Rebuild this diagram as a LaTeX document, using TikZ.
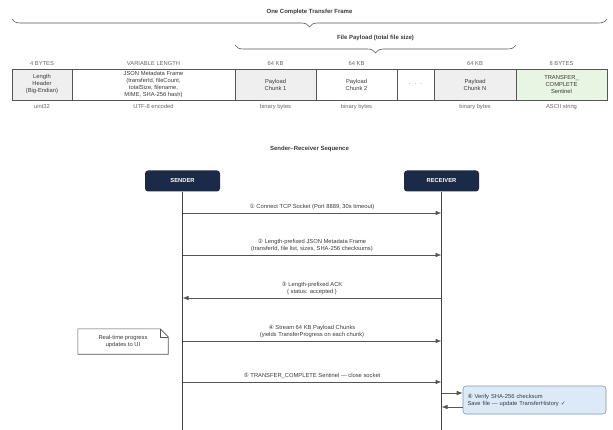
\documentclass[tikz,border=0pt]{standalone}
\usepackage{fontspec}
\setmainfont{Liberation Sans}
\newfontfamily\symfont{DejaVu Sans}
\usetikzlibrary{arrows.meta,positioning,decorations.pathreplacing,calc}
\definecolor{navybox}{HTML}{1B2A47}
\definecolor{cellgray}{HTML}{EFEFEF}
\definecolor{cellgreen}{HTML}{E8F5E3}
\definecolor{verifyblue}{HTML}{DCEAF8}
\definecolor{verifyedge}{HTML}{7C98B8}
\definecolor{edgegray}{HTML}{555555}
\definecolor{labelgray}{HTML}{666666}
\definecolor{textgray}{HTML}{3A3A3A}

\begin{document}
\begin{tikzpicture}[x=1pt, y=-1pt,
font=\fontsize{5.8}{7}\selectfont,
cell/.style={rectangle, draw=edgegray, line width=0.6pt, outer sep=0pt, minimum height=31pt, align=center, text=textgray, inner sep=0.5pt},
sizelabel/.style={text=labelgray, inner sep=1pt},
title/.style={font=\fontsize{6}{7}\selectfont\bfseries, text=textgray},
bracepath/.style={decorate, decoration={brace, mirror, amplitude=8pt}, draw=edgegray, line width=0.6pt},
actor/.style={rectangle, rounded corners=3pt, fill=navybox, text=white, font=\fontsize{5.8}{7}\selectfont\bfseries, minimum width=75pt, minimum height=21pt},
lifeline/.style={draw=edgegray!80!black, line width=0.8pt},
msg/.style={->, >={Latex[length=6pt,width=4.5pt]}, draw=edgegray, line width=0.6pt},
msglabel/.style={align=center, text=textgray, inner sep=1pt},
notebox/.style={rectangle, align=center, text=textgray, minimum width=90pt, minimum height=25pt, inner sep=1pt},
verifybox/.style={rectangle, rounded corners=3pt, draw=verifyedge, fill=verifyblue, line width=0.6pt, align=left, text=textgray, text width=134pt, inner sep=4.5pt, minimum height=28pt},
]

\useasboundingbox (0,0) rectangle (613,430);

% frame layout
\node[cell, fill=cellgray, minimum width=60pt, anchor=west] (lenhdr) at (12,84.5) {Length\\Header\\(Big-Endian)};
\node[cell, fill=white, minimum width=163pt, right=0pt of lenhdr]    (jsonmeta)  {JSON Metadata Frame\\(transferId, fileCount,\\totalSize, filename,\\MIME, SHA-256 hash)};
\node[cell, fill=cellgray, minimum width=81pt, right=0pt of jsonmeta] (chunkone)  {Payload\\Chunk 1};
\node[cell, fill=white, minimum width=81pt, right=0pt of chunkone]    (chunktwo)  {Payload\\Chunk 2};
\node[cell, fill=white, minimum width=37pt, right=0pt of chunktwo]    (chunkdots) {$\cdot$\ \ $\cdot$\ \ $\cdot$};
\node[cell, fill=cellgray, minimum width=82pt, right=0pt of chunkdots] (chunkn)   {Payload\\Chunk N};
\node[cell, fill=cellgreen, minimum width=91pt, right=0pt of chunkn]  (sentinel)  {TRANSFER\_\\COMPLETE\\Sentinel};

\node[sizelabel, above=2pt of lenhdr]   {4 BYTES};
\node[sizelabel, above=2pt of jsonmeta] {VARIABLE LENGTH};
\node[sizelabel, above=2pt of chunkone] {64 KB};
\node[sizelabel, above=2pt of chunktwo] {64 KB};
\node[sizelabel, above=2pt of chunkn]   {64 KB};
\node[sizelabel, above=2pt of sentinel] {8 BYTES};

\node[sizelabel, below=3pt of lenhdr]   {uint32};
\node[sizelabel, below=3pt of jsonmeta] {UTF-8 encoded};
\node[sizelabel, below=3pt of chunkone] {binary bytes};
\node[sizelabel, below=3pt of chunktwo] {binary bytes};
\node[sizelabel, below=3pt of chunkn]   {binary bytes};
\node[sizelabel, below=3pt of sentinel] {ASCII string};

% braces
\node[title] (frametitle)   at (309.5,12) {One Complete Transfer Frame};
\draw[bracepath] (lenhdr.west |- 0,19) -- (sentinel.east |- 0,19);
\node[title] (payloadtitle) at (375.5,38) {File Payload (total file size)};
\draw[bracepath] (chunkone.west |- 0,45) -- (chunkn.east |- 0,45);

% sequence
\node[title] (seqtitle) at (309.5,149) {Sender--Receiver Sequence};

\node[actor] (sender)   at (182.5,181) {SENDER};
\node[actor] (receiver) at (441.5,181) {RECEIVER};

\coordinate (senderend)   at (sender.south |- 0,430);
\coordinate (receiverend) at (receiver.south |- 0,430);
\draw[lifeline] (sender.south) -- (senderend);
\draw[lifeline] (receiver.south) -- (receiverend);

\foreach \i/\y in {1/213, 2/255, 3/298, 4/341, 5/382, 6/393, 7/407} {
  \coordinate (s\i) at (sender.south |- 0,\y);
  \coordinate (r\i) at (receiver.south |- 0,\y);
}

\draw[msg] (s1) -- node[msglabel, above=2pt] {{\symfont ①} Connect TCP Socket (Port 8889, 30s timeout)} (r1);
\draw[msg] (s2) -- node[msglabel, above=2pt] {{\symfont ②} Length-prefixed JSON Metadata Frame\\(transferId, file list, sizes, SHA-256 checksums)} (r2);
\draw[msg] (r3) -- node[msglabel, above=2pt] {{\symfont ③} Length-prefixed ACK\\\{ status: accepted \}} (s3);
\draw[msg] (s4) -- node[msglabel, above=2pt] {{\symfont ④} Stream 64 KB Payload Chunks\\(yields TransferProgress on each chunk)} (r4);
\draw[msg] (s5) -- node[msglabel, above=2pt] {{\symfont ⑤} TRANSFER\_COMPLETE Sentinel --- close socket} (r5);

\node[verifybox] (verify) at (534.5,400) {{\symfont ⑥} Verify SHA-256 checksum\\Save file --- update TransferHistory {\symfont ✓}};
\draw[msg] (r6) -- (verify.west |- r6);
\draw[msg] (verify.west |- r7) -- (r7);

% note
\node[notebox] (progressnote) at (123,341.5) {Real-time progress\\updates to UI};
\draw[draw=edgegray, line width=0.6pt, fill=white] (progressnote.north west) -- ([xshift=-8pt]progressnote.north east) -- ([yshift=-8pt]progressnote.north east) -- (progressnote.south east) -- (progressnote.south west) -- cycle;
\draw[draw=edgegray, line width=0.6pt] ([xshift=-8pt]progressnote.north east) -- ([xshift=-8pt,yshift=-8pt]progressnote.north east) -- ([yshift=-8pt]progressnote.north east);
\node[notebox] at (progressnote) {Real-time progress\\updates to UI};

\end{tikzpicture}
\end{document}
